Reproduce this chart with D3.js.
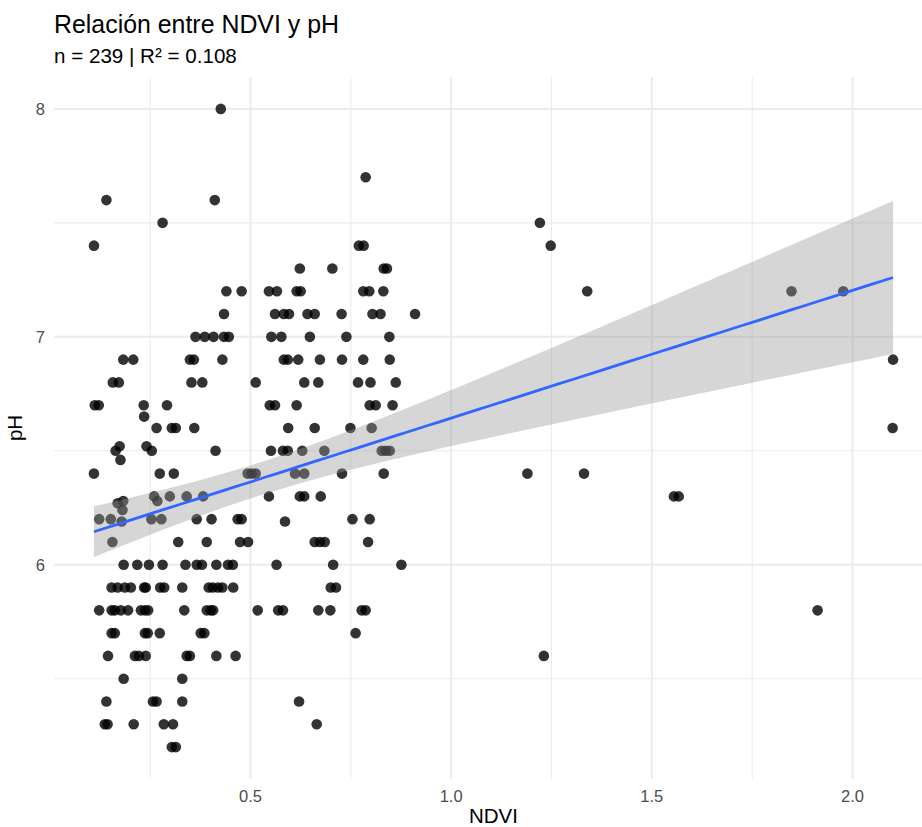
<!DOCTYPE html>
<html>
<head>
<meta charset="utf-8">
<script src="https://cdn.jsdelivr.net/npm/d3@7"></script>
<style>
  body { margin: 0; background: #fff; }
  svg { display: block; font-family: "Liberation Sans", Arial, Helvetica, sans-serif; }
</style>
</head>
<body>
<div id="chart"></div>
<script>
// NDVI / pH pairs (pH levels)
var ndvi = [
  0.426,
  0.787,
  0.141, 0.411,
  0.281, 1.221,
  0.110, 0.770, 0.782, 1.248,
  0.623, 0.704, 0.832, 0.840,
  0.440, 0.478, 0.546, 0.566, 0.615, 0.625, 0.781, 0.796, 0.831, 1.339, 1.848, 1.977,
  0.434, 0.561, 0.583, 0.596, 0.642, 0.660, 0.727, 0.804, 0.824, 0.910,
  0.363, 0.386, 0.408, 0.434, 0.446, 0.552, 0.577, 0.648, 0.739, 0.846,
  0.183, 0.208, 0.349, 0.359, 0.430, 0.583, 0.593, 0.619, 0.673, 0.728, 0.781, 0.847, 2.101,
  0.157, 0.172, 0.353, 0.380, 0.513, 0.634, 0.669, 0.768, 0.799, 0.862,
  0.112, 0.122, 0.234, 0.292, 0.548, 0.561, 0.615, 0.797, 0.812, 0.854,
  0.235,
  0.266, 0.304, 0.314, 0.360, 0.594, 0.660, 0.749, 0.802, 2.100,
  0.174, 0.241,
  0.164, 0.254, 0.413, 0.551, 0.581, 0.593, 0.629, 0.684, 0.827, 0.837, 0.847,
  0.176,
  0.110, 0.274, 0.309, 0.493, 0.503, 0.513, 0.611, 0.634, 0.728, 0.832, 1.190, 1.331,
  0.260, 0.299, 0.341, 0.382, 0.546, 0.623, 0.634, 0.675, 1.555, 1.567,
  0.183, 0.268,
  0.169,
  0.181,
  0.123, 0.152, 0.253, 0.278, 0.366, 0.403, 0.468, 0.478, 0.754, 0.797,
  0.179, 0.586,
  0.156, 0.320, 0.391, 0.474, 0.494, 0.660, 0.673, 0.685, 0.793,
  0.184, 0.218, 0.247, 0.281, 0.338, 0.366, 0.379, 0.415, 0.444, 0.456, 0.565, 0.706, 0.876,
  0.154, 0.169, 0.187, 0.202, 0.235, 0.239, 0.275, 0.285, 0.330, 0.396, 0.406, 0.419, 0.430, 0.457, 0.700, 0.713,
  0.123, 0.154, 0.162, 0.177, 0.195, 0.227, 0.237, 0.245, 0.335, 0.391, 0.401, 0.407, 0.518, 0.569, 0.581, 0.669, 0.699, 0.777, 0.787, 1.913,
  0.154, 0.162, 0.237, 0.244, 0.274, 0.376, 0.385, 0.762,
  0.145, 0.212, 0.222, 0.239, 0.341, 0.349, 0.415, 0.463, 1.231,
  0.184, 0.330,
  0.141, 0.257, 0.266, 0.330, 0.621,
  0.137, 0.144, 0.209, 0.284, 0.307, 0.665,
  0.304, 0.314
]
var ph = [
  8.0,
  7.7,
  7.6, 7.6,
  7.5, 7.5,
  7.4, 7.4, 7.4, 7.4,
  7.3, 7.3, 7.3, 7.3,
  7.2, 7.2, 7.2, 7.2, 7.2, 7.2, 7.2, 7.2, 7.2, 7.2, 7.2, 7.2,
  7.1, 7.1, 7.1, 7.1, 7.1, 7.1, 7.1, 7.1, 7.1, 7.1,
  7.0, 7.0, 7.0, 7.0, 7.0, 7.0, 7.0, 7.0, 7.0, 7.0,
  6.9, 6.9, 6.9, 6.9, 6.9, 6.9, 6.9, 6.9, 6.9, 6.9, 6.9, 6.9, 6.9,
  6.8, 6.8, 6.8, 6.8, 6.8, 6.8, 6.8, 6.8, 6.8, 6.8,
  6.7, 6.7, 6.7, 6.7, 6.7, 6.7, 6.7, 6.7, 6.7, 6.7,
  6.65,
  6.6, 6.6, 6.6, 6.6, 6.6, 6.6, 6.6, 6.6, 6.6,
  6.52, 6.52,
  6.5, 6.5, 6.5, 6.5, 6.5, 6.5, 6.5, 6.5, 6.5, 6.5, 6.5,
  6.46,
  6.4, 6.4, 6.4, 6.4, 6.4, 6.4, 6.4, 6.4, 6.4, 6.4, 6.4, 6.4,
  6.3, 6.3, 6.3, 6.3, 6.3, 6.3, 6.3, 6.3, 6.3, 6.3,
  6.28, 6.28,
  6.27,
  6.24,
  6.2, 6.2, 6.2, 6.2, 6.2, 6.2, 6.2, 6.2, 6.2, 6.2,
  6.19, 6.19,
  6.1, 6.1, 6.1, 6.1, 6.1, 6.1, 6.1, 6.1, 6.1,
  6.0, 6.0, 6.0, 6.0, 6.0, 6.0, 6.0, 6.0, 6.0, 6.0, 6.0, 6.0, 6.0,
  5.9, 5.9, 5.9, 5.9, 5.9, 5.9, 5.9, 5.9, 5.9, 5.9, 5.9, 5.9, 5.9, 5.9, 5.9, 5.9,
  5.8, 5.8, 5.8, 5.8, 5.8, 5.8, 5.8, 5.8, 5.8, 5.8, 5.8, 5.8, 5.8, 5.8, 5.8, 5.8, 5.8, 5.8, 5.8, 5.8,
  5.7, 5.7, 5.7, 5.7, 5.7, 5.7, 5.7, 5.7,
  5.6, 5.6, 5.6, 5.6, 5.6, 5.6, 5.6, 5.6, 5.6,
  5.5, 5.5,
  5.4, 5.4, 5.4, 5.4, 5.4,
  5.3, 5.3, 5.3, 5.3, 5.3, 5.3,
  5.2, 5.2
]

var xTicks = [0.5, 1.0, 1.5, 2.0]
var xMinor = [0.25, 0.75, 1.25, 1.75]
var yTicks = [6, 7, 8]
var yMinor = [5.5, 6.5, 7.5]

var titleText = "Relación entre NDVI y pH"
var subtitleText = "n = 239 | R² = 0.108"

;(function() {
    var width = 922, height = 827
    var left = 54, right = 933, top = 77, bottom = 779

    var data = ndvi.map(function(d, i) { return {x: d, y: ph[i]} })

    // ggplot style 5% expansion
    var xExt = d3.extent(ndvi), yExt = d3.extent(ph)
    var xPad = (xExt[1] - xExt[0]) * 0.05, yPad = (yExt[1] - yExt[0]) * 0.05

    var x = d3.scaleLinear().domain([xExt[0] - xPad, xExt[1] + xPad]).range([left, right])
    var y = d3.scaleLinear().domain([yExt[0] - yPad, yExt[1] + yPad]).range([bottom, top])

    var svg = d3.select("#chart")
        .append("svg")
        .attr("width", width)
        .attr("height", height)

    var grid = svg.append("g")

    grid.selectAll(".xminor").data(xMinor).enter().append("line")
        .attr("x1", function(d) { return x(d) }).attr("x2", function(d) { return x(d) })
        .attr("y1", top).attr("y2", bottom)
        .attr("stroke", "#ebebeb").attr("stroke-width", 1.1)
    grid.selectAll(".yminor").data(yMinor).enter().append("line")
        .attr("y1", function(d) { return y(d) }).attr("y2", function(d) { return y(d) })
        .attr("x1", left).attr("x2", right)
        .attr("stroke", "#ebebeb").attr("stroke-width", 1.1)
    grid.selectAll(".xmajor").data(xTicks).enter().append("line")
        .attr("x1", function(d) { return x(d) }).attr("x2", function(d) { return x(d) })
        .attr("y1", top).attr("y2", bottom)
        .attr("stroke", "#ebebeb").attr("stroke-width", 2)
    grid.selectAll(".ymajor").data(yTicks).enter().append("line")
        .attr("y1", function(d) { return y(d) }).attr("y2", function(d) { return y(d) })
        .attr("x1", left).attr("x2", right)
        .attr("stroke", "#ebebeb").attr("stroke-width", 2)

    // points
    svg.append("g").selectAll("circle")
        .data(data)
        .enter()
        .append("circle")
        .attr("cx", function(d) { return x(d.x) })
        .attr("cy", function(d) { return y(d.y) })
        .attr("r", 5.3)
        .attr("fill", "#000")
        .attr("fill-opacity", 0.8)

    // linear fit + 95% confidence band
    var n = data.length
    var mx = d3.mean(ndvi), my = d3.mean(ph)
    var sxx = d3.sum(ndvi, function(d) { return (d - mx) * (d - mx) })
    var sxy = d3.sum(data, function(d) { return (d.x - mx) * (d.y - my) })
    var b = sxy / sxx, a = my - b * mx
    var sse = d3.sum(data, function(d) { var r = d.y - (a + b * d.x); return r * r })
    var s = Math.sqrt(sse / (n - 2))
    var tq = 1.97

    var fit = d3.range(80).map(function(i) {
        var xv = xExt[0] + (xExt[1] - xExt[0]) * i / 79
        var yv = a + b * xv
        var se = s * Math.sqrt(1 / n + (xv - mx) * (xv - mx) / sxx)
        return {x: xv, y: yv, lo: yv - tq * se, hi: yv + tq * se}
    })

    svg.append("path")
        .datum(fit)
        .attr("d", d3.area()
            .x(function(d) { return x(d.x) })
            .y0(function(d) { return y(d.lo) })
            .y1(function(d) { return y(d.hi) }))
        .attr("fill", "#999999")
        .attr("fill-opacity", 0.4)

    svg.append("path")
        .datum(fit)
        .attr("d", d3.line()
            .x(function(d) { return x(d.x) })
            .y(function(d) { return y(d.y) }))
        .attr("fill", "none")
        .attr("stroke", "#3366FF")
        .attr("stroke-width", 2.8)

    // tick labels
    svg.append("g").selectAll("text").data(xTicks).enter().append("text")
        .attr("x", function(d) { return x(d) })
        .attr("y", 802)
        .attr("text-anchor", "middle")
        .attr("font-size", 16.5)
        .attr("fill", "#4d4d4d")
        .text(function(d) { return d3.format(".1f")(d) })

    svg.append("g").selectAll("text").data(yTicks).enter().append("text")
        .attr("x", 45)
        .attr("y", function(d) { return y(d) })
        .attr("dy", "0.35em")
        .attr("text-anchor", "end")
        .attr("font-size", 16.5)
        .attr("fill", "#4d4d4d")
        .text(function(d) { return d })

    // axis titles
    svg.append("text")
        .attr("x", (left + right) / 2)
        .attr("y", 823)
        .attr("text-anchor", "middle")
        .attr("font-size", 20.5)
        .attr("fill", "#000")
        .text("NDVI")

    svg.append("text")
        .attr("transform", "translate(22," + ((top + bottom) / 2) + ") rotate(-90)")
        .attr("text-anchor", "middle")
        .attr("font-size", 20.5)
        .attr("fill", "#000")
        .text("pH")

    // title + subtitle
    svg.append("text")
        .attr("x", left)
        .attr("y", 33)
        .attr("font-size", 24.9)
        .attr("fill", "#000")
        .text(titleText)

    svg.append("text")
        .attr("x", left)
        .attr("y", 63)
        .attr("font-size", 20.6)
        .attr("fill", "#000")
        .text(subtitleText)
})();
</script>
</body>
</html>
